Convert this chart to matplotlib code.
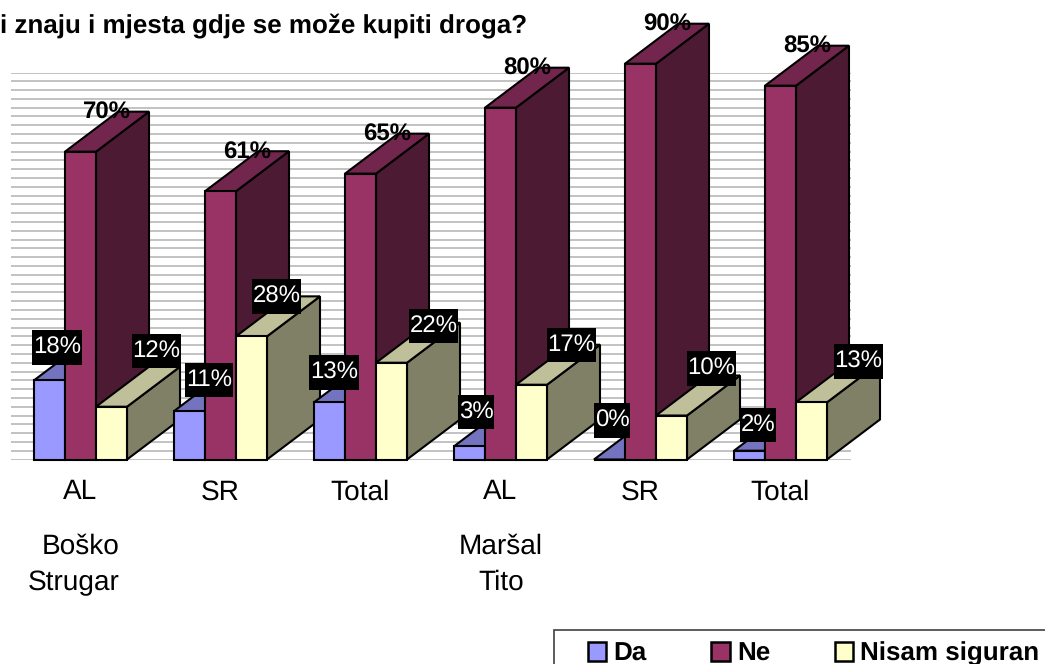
import matplotlib
matplotlib.use("Agg")
import matplotlib.pyplot as plt
from matplotlib.patches import Polygon, Patch, Rectangle
from matplotlib.path import Path

plt.rcParams['font.family'] = ['Liberation Sans', 'DejaVu Sans']
plt.rcParams['text.hinting'] = 'none'
plt.rcParams['text.hinting_factor'] = 1

# ---- data ----
categories = ["AL", "SR", "Total", "AL", "SR", "Total"]
group_labels = [["Boško", "Strugar"], ["Maršal", "Tito"]]
group_positions = [0, 3]
series_names = ["Da", "Ne", "Nisam siguran"]
da = [18, 11, 13, 3, 0, 2]
ne = [70, 61, 65, 80, 90, 85]
nisam = [12, 28, 22, 17, 10, 13]
title = "i znaju i mjesta gdje se može kupiti droga?"

# ---- style ----
W, H = 1045, 664
DPI = 100
px = 72 / DPI
FRONT = ["#9999FF", "#993366", "#FFFFCC"]
TOP = ["#7373BF", "#73264D", "#BFBF99"]
SIDE = ["#4D4D80", "#4D1A33", "#808066"]
BAR_W = 31 / 140
DEPTH_X = 53 / 140
DEPTH_Y = 40 / 4.398
OFFSETS = [-1, 0, 1]
LABEL_OFF = [
    [(7.5, -34), (19.5, -32), (4.5, -31), (6.5, -35), (2.5, -40), (8.5, -27)],
    [(26.5, -40)] * 6,
    [(45, -57), (25, -41), (42, -38), (40, -41), (40, -48), (47, -42)],
]
GROUP_OFF = [[(0.5, -87), (-6.5, -123)], [(0.5, -87), (0.5, -123)]]

fig = plt.figure(figsize=(W / DPI, H / DPI), dpi=DPI, facecolor="white")
ax = fig.add_axes([10.5 / W, (H - 459.5) / H, 840 / W, 387.0 / H])
ax.set_xlim(-0.5, 5.5)
ax.set_ylim(0, 88)
for s in ax.spines.values():
    s.set_visible(False)
ax.patch.set_visible(False)
ax.set_yticks(range(0, 89, 2))
ax.tick_params(axis="y", length=0, labelleft=False)
ax.grid(axis="y", color="#b4b4b4", lw=1.15)
ax.set_axisbelow(True)
ax.set_xticks(range(len(categories)))
ax.set_xticklabels(categories, fontsize=20)
ax.tick_params(axis="x", length=0, pad=14)


def draw_bar(xc, v, k, z):
    x0, x1 = xc - BAR_W / 2, xc + BAR_W / 2
    style = dict(ec="black", lw=1.5, joinstyle="miter", clip_on=False, zorder=z)
    ax.add_patch(Polygon([(x1, 0), (x1 + DEPTH_X, DEPTH_Y),
                          (x1 + DEPTH_X, v + DEPTH_Y), (x1, v)], fc=SIDE[k], **style))
    ax.add_patch(Polygon([(x0, v), (x1, v), (x1 + DEPTH_X, v + DEPTH_Y),
                          (x0 + DEPTH_X, v + DEPTH_Y)], fc=TOP[k], **style))
    ax.add_patch(Polygon([(x0, 0), (x1, 0), (x1, v), (x0, v)], fc=FRONT[k], **style))


z = 3
series = [da, ne, nisam]
for i in range(len(categories)):
    for k, vals in enumerate(series):
        draw_bar(i + OFFSETS[k] * BAR_W, vals[i], k, z)
        z += 1


def tight_box(x0, y0, width, height, mutation_size):
    pad_x, pad_y = 0.8, 6.0
    l, r = x0 - pad_x, x0 + width + pad_x
    b, t = y0 - pad_y, y0 + height + pad_y
    return Path([(l, b), (r, b), (r, t), (l, t), (l, b)], closed=True)


for k, vals in enumerate(series):
    for i, v in enumerate(vals):
        xc = i + OFFSETS[k] * BAR_W
        dx, dy = LABEL_OFF[k][i]
        kw = dict(color="black", fontweight="bold", fontsize=17.5) if k == 1 else dict(
            color="white", fontsize=17.5,
            bbox=dict(boxstyle=tight_box, fc="black", ec="none"))
        ax.annotate(f"{v}%", xy=(xc, v), xytext=(dx * px, (-dy - 1) * px),
                    textcoords="offset points", ha="center", va="center",
                    zorder=100 + i, annotation_clip=False, **kw)

for pos, lines, offs in zip(group_positions, group_labels, GROUP_OFF):
    for lab, (dx, dy) in zip(lines, offs):
        ax.annotate(lab, xy=(pos, 0), xytext=(dx * px, dy * px), textcoords="offset points",
                    ha="center", va="center", fontsize=20, annotation_clip=False)

fig.text(0 / W, 1 - 26 / H, title, fontsize=19, fontweight="bold", ha="left", va="center")

fig.add_artist(Rectangle((553.5 / W, -20 / H), 520 / W, (H + 20 - 629.5) / H,
                         transform=fig.transFigure, fc="white", ec="#404040", lw=1.2))
handles = [Patch(fc=FRONT[k], ec="black", lw=1.8) for k in range(3)]
leg = fig.legend(handles, series_names, ncol=3, loc="lower left",
                 bbox_to_anchor=(588 / W, -2 / H), bbox_transform=fig.transFigure,
                 prop=dict(size=18.8, weight="bold"), frameon=False,
                 borderaxespad=0, borderpad=0,
                 handlelength=0.7, handleheight=0.72, handletextpad=0.28,
                 columnspacing=2.47)

fig.savefig("out.png", dpi=DPI)
